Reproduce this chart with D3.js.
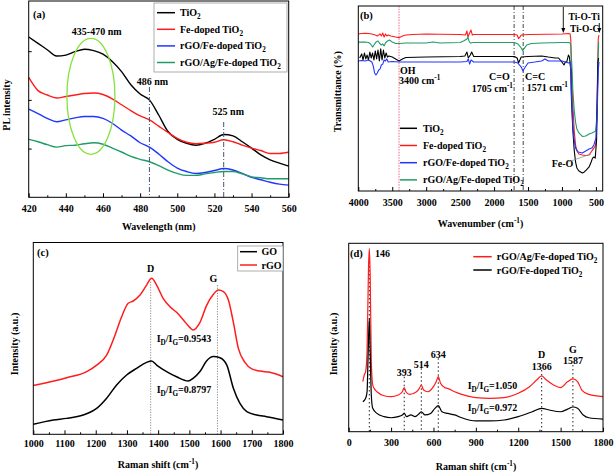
<!DOCTYPE html>
<html><head><meta charset="utf-8">
<script src="https://cdn.jsdelivr.net/npm/d3@7"></script>
<style>body{margin:0;background:#fff}</style>
</head><body><svg id="c" width="614" height="472"></svg>
<script>
// ---------- Panel (a) PL spectra ----------
const plWavelength = [420,425,430,435,440,445,450,455,460,465,470,475,480,485,490,495,500,505,510,515,520,525,530,535,540,545,550,555,560];
const plTiO2   = [3.29,3.16,3.03,2.90,2.92,2.99,3.04,3.01,2.94,2.79,2.58,2.31,2.12,2.00,1.69,1.35,1.19,1.11,1.07,1.11,1.19,1.29,1.26,1.14,1.01,0.87,0.77,0.70,0.64];
const plFe     = [2.46,2.19,2.10,2.04,2.07,2.10,2.13,2.14,2.11,2.02,1.90,1.78,1.67,1.59,1.46,1.33,1.21,1.13,1.10,1.11,1.13,1.18,1.14,1.07,1.01,0.96,0.90,0.90,0.93];
const plRGO    = [1.81,1.72,1.62,1.55,1.59,1.63,1.66,1.66,1.62,1.52,1.38,1.26,1.12,1.03,0.89,0.73,0.60,0.53,0.49,0.51,0.55,0.59,0.56,0.49,0.41,0.36,0.31,0.27,0.25];
const plRGOAg  = [1.19,1.14,1.08,1.03,1.06,1.07,1.10,1.12,1.09,1.01,0.93,0.84,0.78,0.73,0.65,0.56,0.49,0.45,0.45,0.48,0.51,0.53,0.53,0.48,0.42,0.40,0.38,0.38,0.38];
const plTicks = [420,440,460,480,500,520,540,560];
const plNames = ["TiO2","Fe-doped TiO2","rGO/Fe-doped TiO2","rGO/Ag/Fe-doped TiO2"];

// ---------- Panel (b) FTIR ----------
const irRedX = [4000,3950,3900,3850,3800,3750,3720,3700,3680,3660,3640,3620,3600,3580,3560,3520,3450,3400,3350,3300,3200,3000,2800,2500,2420,2400,2385,2360,2340,2320,2300,2000,1700,1660,1640,1620,1600,1500,1200,1000,900,880,870,860,840,820,800,780,750,700,650,600,570,550,530,510,495,485,475,465,455];
const irRedY = [84.9,85.1,85.2,85.1,84.9,84.3,83.8,84.3,84.9,83.8,85.4,83.2,84.9,83.8,84.3,83.8,83.2,82.9,83.8,84.3,84.6,84.9,84.7,84.6,84.3,86.5,83.2,85.4,87.0,84.3,84.6,84.6,84.6,84.3,82.4,83.2,84.3,84.6,84.7,84.9,85.1,84.9,81.6,65.4,46.5,33.0,24.9,21.6,20.0,19.5,19.2,19.5,21.1,22.2,23.2,24.3,27.6,43.8,65.4,82.7,84.3];
const irBlackX = [3980,3950,3930,3910,3890,3870,3850,3830,3810,3790,3770,3750,3730,3710,3690,3670,3650,3630,3610,3590,3570,3550,3500,3450,3400,3350,3300,3000,2500,2430,2400,2380,2350,2330,2300,2000,1700,1660,1640,1620,1600,1500,1300,1200,1100,1050,1000,970,950,930,905,890,870,860,840,820,800,780,750,700,670,640,600,570,550,530,510,490,480,470,460];
const irBlackY = [71.9,74.1,70.8,74.6,71.4,73.5,70.8,75.1,71.9,74.6,70.8,75.7,71.4,76.2,70.3,76.8,70.8,76.2,71.9,74.6,72.4,73.0,72.4,71.4,70.3,71.4,72.2,72.4,72.7,73.0,75.1,71.9,73.5,75.1,72.7,72.7,72.7,71.9,69.2,70.8,72.4,72.7,73.0,72.4,71.9,71.9,69.7,68.1,69.7,69.7,73.5,72.4,65.4,49.2,33.0,22.2,15.7,12.4,10.8,9.7,10.3,11.4,13.0,15.7,17.8,18.4,17.8,27.6,49.2,69.7,71.9];
const irBlueX = [4000,3950,3900,3850,3800,3780,3760,3740,3720,3700,3680,3660,3640,3620,3600,3580,3560,3500,3400,3000,2500,2400,2380,2360,2340,2300,2000,1700,1650,1600,1575,1550,1500,1400,1300,1250,1200,1000,950,900,880,870,860,840,820,800,760,700,650,600,560,530,500,480,465,455];
const irBlueY = [70.3,70.5,70.3,70.8,69.7,67.6,63.8,62.7,63.8,65.4,65.9,68.1,68.6,70.8,70.3,71.4,69.7,70.0,69.7,69.7,69.7,70.0,71.4,68.6,70.8,69.7,69.7,69.7,69.2,67.0,64.9,66.5,69.2,69.7,70.3,71.4,70.3,70.3,69.7,69.2,69.7,65.4,51.9,35.7,27.6,23.2,21.1,20.5,21.6,22.7,23.2,24.9,28.6,43.8,65.4,69.7];
const irGreenX = [4000,3950,3900,3850,3820,3790,3770,3740,3710,3690,3660,3640,3620,3600,3570,3540,3500,3450,3400,3300,3000,2900,2800,2500,2450,2400,2385,2370,2350,2300,2000,1700,1650,1600,1580,1560,1520,1450,1300,1000,900,880,870,855,840,820,800,780,750,700,650,600,560,530,505,490,480,470,460];
const irGreenY = [80.5,80.5,80.5,80.3,79.5,77.8,78.9,80.5,81.1,80.0,78.9,79.5,78.4,80.0,81.1,81.6,80.5,79.7,79.7,80.0,80.0,80.5,80.0,80.3,81.1,82.2,83.2,81.1,80.0,80.3,80.3,80.3,79.5,77.3,75.9,76.8,78.9,79.7,80.0,80.3,80.3,80.0,78.4,68.1,54.6,43.8,37.3,33.5,31.4,29.5,29.7,30.8,31.4,31.9,32.4,38.4,49.2,70.8,80.5];
const irTicks = [4000,3500,3000,2500,2000,1500,1000,500];
const irMarks = [3400,1705,1571];

// ---------- Panel (c) Raman GO / rGO ----------
const rgoX = [1000,1107,1171,1203,1235,1262,1283,1304,1320,1342,1363,1379,1395,1416,1438,1459,1481,1502,1512,1534,1555,1577,1593,1609,1625,1641,1657,1678,1700,1726,1758,1800];
const rgoY = [25.4,29.5,32.7,36.1,41.3,51.8,61.3,68.3,69.5,72.6,77.8,81.3,77.8,70.9,66.5,63.6,59.6,55.6,54.4,58.4,67.1,73.0,75.2,74.4,70.0,58.4,44.8,37.5,34.1,33.0,32.3,30.0];
const goX = [1000,1064,1107,1160,1203,1235,1267,1299,1331,1363,1379,1395,1427,1459,1496,1512,1534,1555,1577,1598,1620,1641,1662,1684,1715,1747,1800];
const goY = [5.2,7.5,8.3,10.1,13.5,18.8,25.7,30.9,34.4,37.5,38.2,36.1,32.7,30.0,27.8,29.2,32.7,38.2,40.5,39.9,36.1,24.0,16.1,11.8,10.1,9.2,7.5];
const ramanCTicks = [1000,1100,1200,1300,1400,1500,1600,1700,1800];

// ---------- Panel (d) Raman composites ----------
const agX = [100,110,120,130,140,146,152,160,170,180,200,250,300,350,380,393,405,430,480,500,514,530,560,600,620,634,650,680,700,750,800,900,1000,1100,1200,1280,1330,1366,1400,1450,1500,1550,1587,1620,1650,1700,1800];
const agY = [26.6,30.1,31.9,42.5,86.7,97.3,83.2,37.2,24.8,23.0,21.2,19.1,18.6,19.5,21.2,23.4,21.2,19.8,21.2,23.0,24.8,22.1,21.2,23.9,26.6,29.2,25.7,23.4,23.0,21.2,19.8,18.1,17.7,18.1,20.4,23.9,27.4,29.6,27.4,24.8,23.4,26.6,28.0,26.6,22.1,19.8,18.6];
const feX = [100,120,130,138,146,152,160,170,200,250,300,350,380,393,410,440,470,500,514,540,580,610,634,660,700,750,800,900,1000,1100,1200,1300,1366,1420,1500,1550,1587,1620,1660,1700,1800];
const feY = [15.9,17.7,21.2,42.5,60.2,42.5,19.5,12.4,9.7,8.0,7.4,8.0,8.9,9.7,8.0,8.9,8.0,9.7,10.6,8.9,9.7,12.4,13.8,10.6,9.7,8.9,7.4,5.7,5.7,6.2,8.0,10.6,12.4,11.5,10.6,12.0,13.1,12.4,8.9,7.4,6.7];
const ramanDTicks = [0,300,600,900,1200,1500,1800];
const ramanDPeaks = [146,393,514,634,1366,1587];

// ---------- drawing ----------
const FF = '"Liberation Serif","Times New Roman",serif';
const svg = d3.select("#c");
const RED="#ff1c1c", BLUE="#2036ff", GREEN="#1f9c68", BLACK="#000";

function rich(g, x, y, parts, o={}) {
  const size = o.size||10;
  const t = g.append("text").attr("x",x).attr("y",y).attr("font-family",FF)
    .attr("font-weight","bold").attr("font-size",size).attr("text-anchor",o.anchor||"start")
    .attr("fill",o.fill||"#000");
  if (o.rotate) t.attr("transform",`rotate(-90,${x},${y})`);
  let off = 0;
  parts.forEach(p=>{
    if (typeof p === "string") { const s=t.append("tspan").text(p); if(off){s.attr("dy",-off); off=0;} }
    else { const d = p.sub?3:-4; const s=t.append("tspan").text(p.t).attr("font-size",size*0.72).attr("dy",d-off); off=d; }
  });
  return t;
}

function panel(s) {
  const g = svg.append("g");
  const x = d3.scaleLinear().domain(s.xd).range([s.l,s.r]);
  const y = d3.scaleLinear().domain(s.yd).range([s.b,s.t]);
  const ax = g.append("g").attr("transform",`translate(0,${s.b})`)
    .call(d3.axisBottom(x).tickValues(s.ticks).tickSize(-4).tickPadding(s.pad).tickFormat(d3.format("d")));
  ax.select(".domain").remove();
  ax.selectAll("text").attr("font-family",FF).attr("font-weight","bold").attr("font-size",10).attr("fill","#000");
  const mx = g.append("g").attr("transform",`translate(0,${s.b})`)
    .call(d3.axisBottom(x).tickValues(s.minor).tickSize(-2).tickFormat(""));
  mx.select(".domain").remove();
  if (s.yticks) {
    const ay = g.append("g").attr("transform",`translate(${s.l},0)`)
      .call(d3.axisLeft(y).tickValues(s.yticks).tickSize(-3).tickFormat(""));
    ay.select(".domain").remove();
  }
  return {g,x,y};
}
function frame(g,s){ g.append("rect").attr("x",s.l).attr("y",s.t).attr("width",s.r-s.l).attr("height",s.b-s.t)
  .attr("fill","none").attr("stroke","#000").attr("stroke-width",1); }
function curve(g,x,y,xs,ys,color,w,c){
  g.append("path").datum(xs.map((v,i)=>[v,ys[i]])).attr("fill","none").attr("stroke",color).attr("stroke-width",w)
   .attr("stroke-linejoin","round")
   .attr("d",d3.line().x(d=>x(d[0])).y(d=>y(d[1])).curve(c||d3.curveLinear));
}
const mid = arr => arr.slice(0,-1).map((v,i)=>(v+arr[i+1])/2);

// Panel a
{
  const s={l:28.7,r:288.7,t:1,b:197.3,xd:[420,560],yd:[0,4.03],ticks:plTicks,minor:mid(plTicks),pad:8,yticks:[1,2,3]};
  const {g,x,y}=panel(s);
  const series=[plTiO2,plFe,plRGO,plRGOAg], cols=[BLACK,RED,BLUE,GREEN];
  series.forEach((ys,i)=>curve(g,x,y,plWavelength,ys,cols[i],1.4,d3.curveMonotoneX));
  [[485,2.02],[525,1.29]].forEach(([w,v])=>{
    g.append("line").attr("x1",x(w)).attr("x2",x(w)).attr("y1",w===485?87:122).attr("y2",s.b)
      .attr("stroke","#45557a").attr("stroke-width",1).attr("stroke-dasharray","5,2,1,2");
  });
  g.append("ellipse").attr("cx",x(453.5)).attr("cy",96.3).attr("rx",24).attr("ry",58)
    .attr("fill","none").attr("stroke","#86e23c").attr("stroke-width",1.3);
  rich(g,96.7,35,["435-470 nm"],{anchor:"middle"});
  rich(g,152.5,84.5,["486 nm"],{anchor:"middle"});
  rich(g,228.3,114.5,["525 nm"],{anchor:"middle"});
  rich(g,33,17.5,["(a)"],{size:10.5});
  frame(g,s);
  g.append("rect").attr("x",154).attr("y",3).attr("width",133).attr("height",69).attr("fill","#fff").attr("stroke","#999").attr("stroke-width",0.8);
  const labs=[["TiO",{t:"2",sub:1}],["Fe-doped TiO",{t:"2",sub:1}],["rGO/Fe-doped TiO",{t:"2",sub:1}],["rGO/Ag/Fe-doped TiO",{t:"2",sub:1}]];
  labs.forEach((lab,i)=>{
    const yy=12.7+i*16.6;
    g.append("line").attr("x1",157).attr("x2",175).attr("y1",yy).attr("y2",yy).attr("stroke",cols[i]).attr("stroke-width",1.5);
    rich(g,180,yy+3.5,lab);
  });
  rich(g,9.5,105,["PL intensity"],{anchor:"middle",rotate:true});
  rich(g,158.7,229.5,["Wavelength (nm)"],{anchor:"middle"});
}

// Panel b
{
  const s={l:358.3,r:602.7,t:6,b:191,xd:[4000,400],yd:[0,100],ticks:irTicks,minor:mid(irTicks),pad:8};
  const {g,x,y}=panel(s);
  g.append("line").attr("x1",x(irMarks[0])).attr("x2",x(irMarks[0])).attr("y1",s.t).attr("y2",s.b)
    .attr("stroke","#f06a88").attr("stroke-width",1).attr("stroke-dasharray","1.5,1.2");
  [irMarks[1],irMarks[2]].forEach(w=>g.append("line").attr("x1",x(w)).attr("x2",x(w)).attr("y1",s.t).attr("y2",s.b)
    .attr("stroke","#333").attr("stroke-width",0.9).attr("stroke-dasharray","4,2,1,2"));
  curve(g,x,y,irRedX,irRedY,RED,1.1);
  curve(g,x,y,irGreenX,irGreenY,GREEN,1.1);
  curve(g,x,y,irBlackX,irBlackY,BLACK,1.1);
  curve(g,x,y,irBlueX,irBlueY,BLUE,1.1);
  rich(g,400,74,["OH"]);
  rich(g,399,84,["3400 cm",{t:"-1"}]);
  rich(g,489,80,["C=O"]);
  rich(g,471.7,92,["1705 cm",{t:"-1"}]);
  rich(g,525,79.5,["C=C"]);
  rich(g,526.7,91,["1571 cm",{t:"-1"}]);
  rich(g,568.5,20,["Ti-O-Ti"],{size:9.5});
  rich(g,570,32,["Ti-O-C"],{size:9.5});
  rich(g,551.7,167,["Fe-O"]);
  g.append("line").attr("x1",568).attr("y1",162).attr("x2",591).attr("y2",154).attr("stroke","#888").attr("stroke-width",0.7);
  [[563.3,7,33],[599.3,23,33]].forEach(([ax,y1,y2])=>{
    g.append("line").attr("x1",ax).attr("x2",ax).attr("y1",y1).attr("y2",y2-4).attr("stroke","#000").attr("stroke-width",0.9);
    g.append("path").attr("d",`M${ax-2},${y2-5}L${ax+2},${y2-5}L${ax},${y2}Z`).attr("fill","#000");
  });
  rich(g,360,18.5,["(b)"],{size:10.5});
  const cols=[BLACK,RED,BLUE,GREEN];
  const labs=[["TiO",{t:"2",sub:1}],["Fe-doped TiO",{t:"2",sub:1}],["rGO/Fe-doped TiO",{t:"2",sub:1}],["rGO/Ag/Fe-doped TiO",{t:"2",sub:1}]];
  labs.forEach((lab,i)=>{
    const yy=128.3+i*17.2;
    g.append("line").attr("x1",400).attr("x2",417).attr("y1",yy).attr("y2",yy).attr("stroke",cols[i]).attr("stroke-width",1.5);
    rich(g,423,yy+3.5,lab);
  });
  frame(g,s);
  rich(g,341.5,91.7,["Transmittance (%)"],{anchor:"middle",rotate:true});
  rich(g,480.5,227,["Wavenumber (cm",{t:"-1"},")"],{anchor:"middle"});
}

// Panel c
{
  const s={l:33.3,r:283,t:242.5,b:434.3,xd:[1000,1800],yd:[0,100],ticks:ramanCTicks,minor:mid(ramanCTicks),pad:5.6};
  const {g,x,y}=panel(s);
  [[1376,281.7],[1590,285]].forEach(([w,yt])=>g.append("line").attr("x1",x(w)).attr("x2",x(w)).attr("y1",yt).attr("y2",s.b)
    .attr("stroke","#8a8a8a").attr("stroke-width",0.9).attr("stroke-dasharray","1.3,1.3"));
  curve(g,x,y,rgoX,rgoY,RED,1.5,d3.curveMonotoneX);
  curve(g,x,y,goX,goY,BLACK,1.5,d3.curveMonotoneX);
  rich(g,x(1376),272,["D"],{anchor:"middle"});
  rich(g,x(1590)-4,282,["G"],{anchor:"middle"});
  rich(g,156.7,342,["I",{t:"D",sub:1},"/I",{t:"G",sub:1},"=0.9543"]);
  rich(g,156.7,393,["I",{t:"D",sub:1},"/I",{t:"G",sub:1},"=0.8797"]);
  rich(g,37,255.5,["(c)"],{size:10.5});
  frame(g,s);
  g.append("rect").attr("x",237.7).attr("y",246).attr("width",45.3).attr("height",25).attr("fill","#fff").attr("stroke","#999").attr("stroke-width",0.8);
  [["GO",BLACK],["rGO",RED]].forEach(([n,c],i)=>{
    const yy=251.7+i*13.3;
    g.append("line").attr("x1",240).attr("x2",257).attr("y1",yy).attr("y2",yy).attr("stroke",c).attr("stroke-width",1.5);
    rich(g,261.5,yy+3.5,[n]);
  });
  rich(g,17.5,344,["Intensity (a.u.)"],{anchor:"middle",rotate:true});
  rich(g,158,467.5,["Raman shift (cm",{t:"-1"},")"],{anchor:"middle"});
}

// Panel d
{
  const s={l:348.7,r:603,t:243.3,b:431.7,xd:[0,1800],yd:[0,100],ticks:ramanDTicks,minor:mid(ramanDTicks),pad:7.2};
  const {g,x,y}=panel(s);
  const tops=[262,376.7,368.3,358.3,370,365];
  ramanDPeaks.forEach((p,i)=>g.append("line").attr("x1",x(p)).attr("x2",x(p)).attr("y1",tops[i]).attr("y2",s.b)
    .attr("stroke","#222").attr("stroke-width",1).attr("stroke-dasharray","1.5,2.5"));
  curve(g,x,y,agX,agY,RED,1.2,d3.curveMonotoneX);
  curve(g,x,y,feX,feY,BLACK,1.2,d3.curveMonotoneX);
  rich(g,375,257,["146"]);
  rich(g,x(393),376,["393"],{anchor:"middle"});
  rich(g,x(514),368,["514"],{anchor:"middle"});
  rich(g,x(634),357.5,["634"],{anchor:"middle"});
  rich(g,x(1366),358,["D"],{anchor:"middle"});
  rich(g,x(1366),369.5,["1366"],{anchor:"middle"});
  rich(g,x(1587),353,["G"],{anchor:"middle"});
  rich(g,x(1587),363.5,["1587"],{anchor:"middle"});
  rich(g,467.7,388.5,["I",{t:"D",sub:1},"/I",{t:"G",sub:1},"=1.050"]);
  rich(g,467.7,411,["I",{t:"D",sub:1},"/I",{t:"G",sub:1},"=0.972"]);
  rich(g,350,257,["(d)"],{size:10.5});
  [["rGO/Ag/Fe-doped TiO",RED],["rGO/Fe-doped TiO",BLACK]].forEach(([n,c],i)=>{
    const yy=256.7+i*13.3;
    g.append("line").attr("x1",473.3).attr("x2",491.7).attr("y1",yy).attr("y2",yy).attr("stroke",c).attr("stroke-width",1.5);
    rich(g,496.7,yy+3.5,[n,{t:"2",sub:1}]);
  });
  frame(g,s);
  rich(g,336.8,344,["Intensity (a.u.)"],{anchor:"middle",rotate:true});
  rich(g,476,469.5,["Raman shift (cm",{t:"-1"},")"],{anchor:"middle"});
}
</script></body></html>
